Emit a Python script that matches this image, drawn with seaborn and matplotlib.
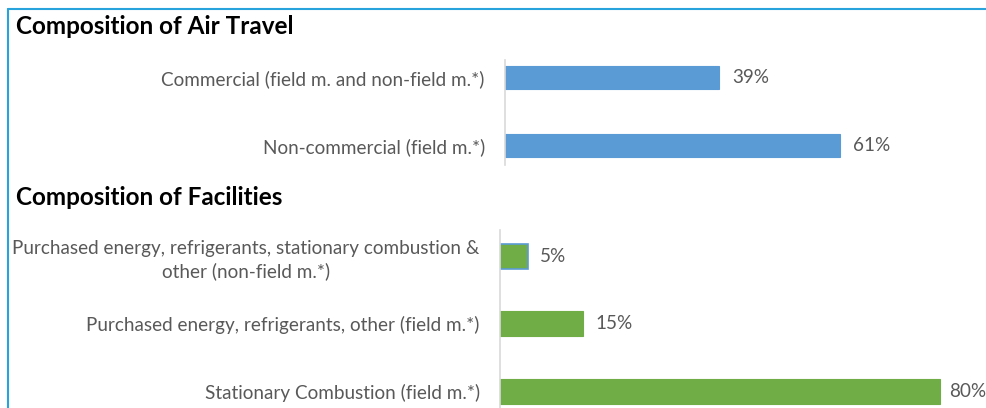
import matplotlib
matplotlib.use("Agg")
import matplotlib.pyplot as plt
import seaborn as sns
import pandas as pd
from matplotlib.lines import Line2D

# ---- data ----
air_categories = ["Commercial (field m. and non-field m.*)", "Non-commercial (field m.*)"]
air_values = [39, 61]
fac_categories = ["Purchased energy, refrigerants, stationary combustion &\nother (non-field m.*)",
                  "Purchased energy, refrigerants, other (field m.*)",
                  "Stationary Combustion (field m.*)"]
fac_values = [5, 15, 80]
titles = ["Composition of Air Travel", "Composition of Facilities"]

sns.set_theme(style="white")
plt.rcParams['font.family'] = ['Lato', 'DejaVu Sans']

W, H = 987, 408
fig = plt.figure(figsize=(W / 100, H / 100), dpi=100)

def px_axes(left, top, right, bottom):
    return fig.add_axes([left / W, 1 - bottom / H, (right - left) / W, (bottom - top) / H])

PX_PER_PCT = 5.5
BLUE = "#5B9BD5"
GREEN = "#70AD47"
LABEL_COLOR = "#595959"
LABEL_SIZE = 13.6

value_texts = []

def draw(ax, cats, vals, color, bw, ylim, left):
    df = pd.DataFrame({"cat": cats, "val": vals})
    sns.barplot(data=df, x="val", y="cat", orient="h", color=color, width=bw,
                saturation=1, ax=ax, edgecolor=color, linewidth=0.8)
    ax.set_xlim(0, (W - left) / PX_PER_PCT)
    ax.set_ylim(*ylim)
    ax.set_xlabel("")
    ax.set_ylabel("")
    ax.set_xticks([])
    for s in ["top", "right", "bottom"]:
        ax.spines[s].set_visible(False)
    ax.spines["left"].set_color("#D9D9D9")
    ax.spines["left"].set_linewidth(1.2)
    ax.tick_params(axis="y", length=0, pad=14.5, labelsize=LABEL_SIZE, labelcolor=LABEL_COLOR)
    for lab in ax.get_yticklabels():
        lab.set_multialignment("center")
        lab.set_linespacing(1.3)
    for p, v in zip(ax.patches, vals):
        t = ax.annotate(f"{v}%", (p.get_width(), p.get_y() + p.get_height() / 2),
                        xytext=(9, 0), textcoords="offset points", va="center", ha="left",
                        fontsize=LABEL_SIZE, color=LABEL_COLOR, annotation_clip=False)
        value_texts.append(t)

ax1 = px_axes(505, 60, W, 165)
draw(ax1, air_categories, air_values, BLUE, 0.34, (1.287, -0.257), 505)

ax2 = px_axes(500, 230, W, H)
draw(ax2, fac_categories, fac_values, GREEN, 0.37, (2.25, -0.39), 500)
ax2.patches[0].set_edgecolor(BLUE)
ax2.patches[0].set_linewidth(1.2)

fig.text(16 / W, 1 - 27 / H, titles[0], fontsize=17.5, fontweight="bold", va="center", ha="left", color="black")
fig.text(16 / W, 1 - 197 / H, titles[1], fontsize=17.5, fontweight="bold", va="center", ha="left", color="black")

# frame lines
fig.add_artist(Line2D([8 / W, 1], [1 - 9 / H, 1 - 9 / H], color="#29A3DB", lw=1.5, transform=fig.transFigure))
fig.add_artist(Line2D([8 / W, 8 / W], [1 - 9 / H, 0], color="#29A3DB", lw=1.5, transform=fig.transFigure))

# keep value labels inside the figure
fig.canvas.draw()
renderer = fig.canvas.get_renderer()
for t in value_texts:
    bb = t.get_window_extent(renderer)
    over = bb.x1 - (W - 1)
    if over > 0:
        dx, dy = t.xyann
        t.xyann = (dx - over * 72 / 100, dy)

fig.savefig("out.png", dpi=100)
